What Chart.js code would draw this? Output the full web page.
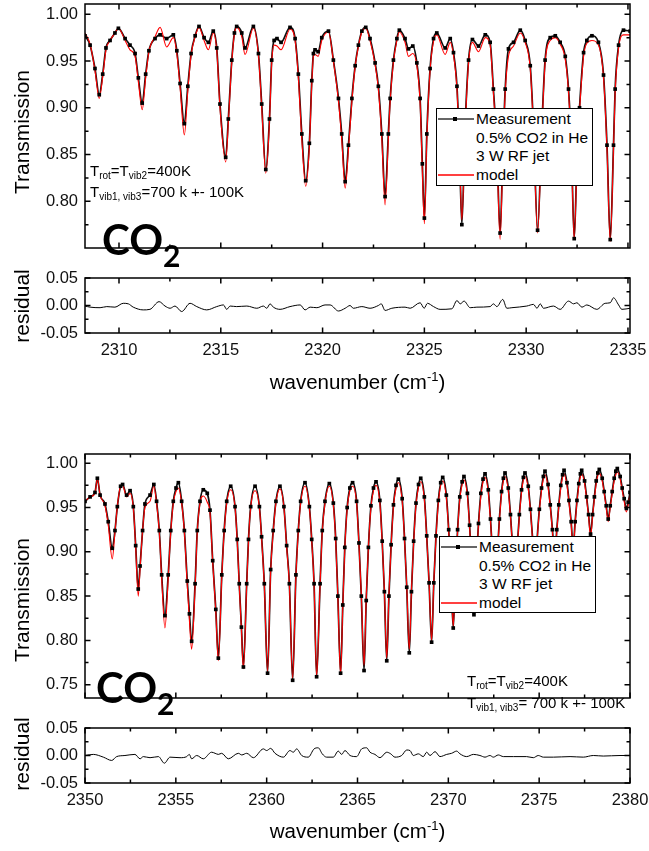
<!DOCTYPE html>
<html>
<head>
<meta charset="utf-8">
<script src="https://cdn.jsdelivr.net/npm/chart.js@4.4.1/dist/chart.umd.min.js"></script>
<style>
  body { margin: 0; background: #fff; }
  #page { position: relative; width: 649px; height: 851px; overflow: hidden;
          font-family: "Liberation Sans", Arial, sans-serif; color: #000; }
  canvas { position: absolute; left: 0; }
  .ytitle { position: absolute; font-size: 21px; line-height: 24px; white-space: nowrap;
            transform: translate(-50%, -50%) rotate(-90deg); }
  .xtitle { position: absolute; left: 85px; width: 545px; text-align: center;
            font-size: 20.5px; line-height: 24px; }
  .xtitle sup { font-size: 13px; line-height: 0; }
  .note { position: absolute; font-size: 15px; line-height: 20.5px; white-space: nowrap; }
  .note sub { font-size: 10px; line-height: 0; vertical-align: -3px; }
  .mol { position: absolute; font-family: Lato, "Open Sans", sans-serif; font-weight: 700;
         font-size: 42px; line-height: 42px; white-space: nowrap; }
  .mol span { font-size: 30px; position: relative; top: 12px; }
  .legend { position: absolute; box-sizing: border-box; width: 157px; height: 78px;
            border: 1px solid #000; background: #fff; padding-top: 1px;
            font-size: 15.5px; line-height: 18.7px; }
  .row { position: relative; padding-left: 39px; height: 18.7px; white-space: nowrap; }
  .row svg { position: absolute; left: 1px; top: 5px; }
</style>
</head>
<body>
<div id="page">
  <canvas id="topMain" width="649" height="300" style="top:-10px"></canvas>
  <canvas id="topRes" width="649" height="99" style="top:264px"></canvas>
  <canvas id="botMain" width="649" height="300" style="top:440px"></canvas>
  <canvas id="botRes" width="649" height="99" style="top:714px"></canvas>

  <div class="ytitle" style="left:22px;top:132px">Transmission</div>
  <div class="ytitle" style="left:22px;top:306px">residual</div>
  <div class="xtitle" style="top:370px">wavenumber (cm<sup>-1</sup>)</div>
  <div class="ytitle" style="left:22px;top:600px">Transmission</div>
  <div class="ytitle" style="left:22px;top:754px">residual</div>
  <div class="xtitle" style="top:819px">wavenumber (cm<sup>-1</sup>)</div>

  <div class="note" style="left:90px;top:161px">T<sub>rot</sub>=T<sub>vib2</sub>=400K<br>T<sub>vib1, vib3</sub>=700 k +- 100K</div>
  <div class="note" style="left:467px;top:670px;line-height:21.5px">T<sub>rot</sub>=T<sub>vib2</sub>=400K<br>T<sub>vib1, vib3</sub>= 700 k +- 100K</div>

  <div class="mol" style="left:102px;top:218px">CO<span>2</span></div>
  <div class="mol" style="left:96px;top:666px">CO<span>2</span></div>

  <div class="legend" style="left:436px;top:108px">
    <div class="row"><svg width="36" height="8"><line x1="0" y1="4" x2="36" y2="4" stroke="#333" stroke-width="1.5"/><rect x="15" y="2" width="4" height="4" fill="#000"/></svg>Measurement</div>
    <div class="row">0.5% CO2 in He</div>
    <div class="row">3 W RF jet</div>
    <div class="row"><svg width="36" height="8"><line x1="0" y1="4" x2="36" y2="4" stroke="#ff0000" stroke-width="1.3"/></svg>model</div>
  </div>
  <div class="legend" style="left:439px;top:536px;height:77px">
    <div class="row"><svg width="36" height="8"><line x1="0" y1="4" x2="36" y2="4" stroke="#333" stroke-width="1.5"/><rect x="15" y="2" width="4" height="4" fill="#000"/></svg>Measurement</div>
    <div class="row">0.5% CO2 in He</div>
    <div class="row">3 W RF jet</div>
    <div class="row"><svg width="36" height="8"><line x1="0" y1="4" x2="36" y2="4" stroke="#ff0000" stroke-width="1.3"/></svg>model</div>
  </div>
</div>

<script>
// ---- upper spectrum (2308 - 2335 cm-1) ----
const wnTop = [
  2308.33, 2308.58, 2308.82, 2309.03, 2309.20, 2309.36, 2309.56, 2309.80, 2309.97, 2310.30,
  2310.54, 2310.79, 2310.95, 2311.14, 2311.31, 2311.47, 2311.77, 2312.02, 2312.34, 2312.67,
  2312.84, 2313.00, 2313.21, 2313.38, 2313.54, 2313.74, 2313.93, 2314.18, 2314.39, 2314.63,
  2314.80, 2314.96, 2315.24, 2315.37, 2315.54, 2315.67, 2315.78, 2316.03, 2316.19, 2316.60,
  2316.85, 2317.01, 2317.21, 2317.39, 2317.50, 2317.62, 2317.76, 2317.96, 2318.40, 2318.65,
  2318.81, 2318.98, 2319.17, 2319.35, 2319.47, 2319.55, 2319.63, 2319.78, 2319.96, 2320.29,
  2320.53, 2320.78, 2320.94, 2321.11, 2321.27, 2321.44, 2321.60, 2321.76, 2321.93, 2322.12,
  2322.33, 2322.58, 2322.74, 2322.91, 2323.07, 2323.23, 2323.32, 2323.48, 2323.65, 2323.77,
  2324.05, 2324.22, 2324.43, 2324.63, 2324.79, 2324.90, 2325.00, 2325.12, 2325.28, 2325.45,
  2325.61, 2326.02, 2326.27, 2326.43, 2326.60, 2326.72, 2326.84, 2327.00, 2327.17, 2327.36,
  2327.66, 2327.99, 2328.23, 2328.39, 2328.56, 2328.72, 2328.85, 2328.97, 2329.13, 2329.38,
  2329.71, 2329.95, 2330.20, 2330.36, 2330.56, 2330.77, 2330.93, 2331.18, 2331.43, 2331.67,
  2331.92, 2332.08, 2332.22, 2332.36, 2332.50, 2332.62, 2332.82, 2332.98, 2333.23, 2333.55,
  2333.80, 2333.97, 2334.13, 2334.29, 2334.37, 2334.54, 2334.78, 2335.11
];
const measTop = [
  0.977, 0.967, 0.942, 0.914, 0.936, 0.964, 0.972, 0.980, 0.985, 0.974,
  0.967, 0.958, 0.932, 0.905, 0.936, 0.961, 0.974, 0.978, 0.974, 0.978,
  0.961, 0.926, 0.883, 0.923, 0.958, 0.977, 0.987, 0.975, 0.970, 0.982,
  0.964, 0.904, 0.847, 0.888, 0.951, 0.980, 0.987, 0.980, 0.964, 0.987,
  0.958, 0.904, 0.834, 0.888, 0.951, 0.972, 0.974, 0.970, 0.986, 0.974,
  0.936, 0.872, 0.822, 0.862, 0.929, 0.958, 0.962, 0.960, 0.975, 0.982,
  0.951, 0.910, 0.872, 0.821, 0.860, 0.910, 0.945, 0.967, 0.982, 0.986,
  0.974, 0.948, 0.923, 0.872, 0.805, 0.872, 0.910, 0.951, 0.974, 0.983,
  0.974, 0.963, 0.966, 0.948, 0.910, 0.840, 0.782, 0.872, 0.942, 0.974,
  0.980, 0.964, 0.974, 0.959, 0.923, 0.860, 0.775, 0.880, 0.951, 0.973,
  0.966, 0.978, 0.970, 0.920, 0.860, 0.766, 0.850, 0.920, 0.963, 0.970,
  0.983, 0.972, 0.945, 0.880, 0.769, 0.880, 0.951, 0.975, 0.977, 0.970,
  0.955, 0.920, 0.860, 0.760, 0.850, 0.900, 0.959, 0.972, 0.977, 0.970,
  0.935, 0.860, 0.759, 0.860, 0.920, 0.967, 0.983, 0.982
];
const modelTop = [
  0.980, 0.968, 0.940, 0.910, 0.933, 0.962, 0.972, 0.980, 0.985, 0.972,
  0.962, 0.955, 0.928, 0.898, 0.932, 0.960, 0.976, 0.986, 0.965, 0.975,
  0.958, 0.922, 0.871, 0.918, 0.956, 0.976, 0.986, 0.972, 0.962, 0.980,
  0.962, 0.900, 0.842, 0.884, 0.949, 0.979, 0.986, 0.976, 0.957, 0.985,
  0.956, 0.900, 0.830, 0.884, 0.948, 0.967, 0.966, 0.962, 0.984, 0.972,
  0.932, 0.866, 0.816, 0.858, 0.926, 0.955, 0.957, 0.955, 0.972, 0.981,
  0.950, 0.907, 0.866, 0.814, 0.855, 0.907, 0.944, 0.966, 0.981, 0.985,
  0.972, 0.946, 0.920, 0.866, 0.796, 0.866, 0.907, 0.949, 0.972, 0.981,
  0.970, 0.955, 0.958, 0.945, 0.905, 0.832, 0.776, 0.866, 0.940, 0.971,
  0.978, 0.957, 0.970, 0.956, 0.920, 0.856, 0.780, 0.877, 0.948, 0.970,
  0.960, 0.975, 0.967, 0.916, 0.855, 0.759, 0.845, 0.916, 0.955, 0.966,
  0.980, 0.970, 0.942, 0.876, 0.766, 0.876, 0.948, 0.972, 0.975, 0.968,
  0.952, 0.917, 0.856, 0.759, 0.846, 0.896, 0.955, 0.969, 0.972, 0.967,
  0.932, 0.856, 0.757, 0.856, 0.916, 0.964, 0.978, 0.978
];
const wnResTop = [
  2308.33, 2308.58, 2309.07, 2309.40, 2309.80, 2310.21, 2310.46, 2310.70, 2311.19, 2311.52,
  2311.97, 2312.26, 2312.51, 2312.75, 2313.08, 2313.49, 2313.82, 2314.31, 2314.80, 2315.13,
  2315.29, 2315.46, 2315.78, 2316.28, 2316.77, 2317.09, 2317.26, 2317.42, 2317.58, 2317.91,
  2318.40, 2318.90, 2319.14, 2319.39, 2319.72, 2320.12, 2320.37, 2320.78, 2321.11, 2321.35,
  2321.51, 2321.93, 2322.33, 2322.74, 2322.88, 2323.07, 2323.40, 2324.05, 2324.30, 2324.79,
  2324.99, 2325.15, 2325.45, 2325.77, 2326.35, 2326.60, 2326.76, 2326.95, 2327.25, 2327.58,
  2328.23, 2328.39, 2328.56, 2328.85, 2329.05, 2329.30, 2330.03, 2330.36, 2330.53, 2330.69,
  2330.85, 2331.34, 2331.67, 2332.08, 2332.33, 2332.49, 2332.74, 2332.98, 2333.47, 2333.88,
  2334.13, 2334.29, 2334.54, 2334.70, 2335.11
];
const resTop = [
  -0.001, -0.003, -0.004, -0.002, -0.003, 0.004, 0.003, -0.003, -0.008, -0.007,
  0.007, -0.001, -0.005, -0.001, -0.011, 0.004, -0.002, -0.008, -0.002, 0.001,
  -0.007, -0.001, -0.002, -0.001, -0.005, -0.001, -0.005, 0.003, -0.003, -0.007,
  -0.002, 0.001, -0.008, -0.003, -0.004, 0.001, 0.001, -0.010, -0.005, 0.000,
  -0.005, -0.002, -0.005, 0.000, 0.003, -0.009, -0.005, -0.003, -0.005, 0.005,
  -0.005, 0.004, -0.002, -0.007, -0.006, 0.009, 0.003, 0.008, -0.004, -0.003,
  -0.002, 0.003, -0.002, 0.011, -0.005, -0.004, -0.001, 0.002, -0.005, 0.003,
  -0.005, -0.001, -0.007, 0.008, 0.003, 0.005, -0.003, 0.001, -0.007, 0.004,
  0.005, 0.014, 0.001, -0.007, -0.005
];

// ---- lower spectrum (2350 - 2380 cm-1) ----
const wnBot = [
  2350.00, 2350.28, 2350.55, 2350.68, 2350.83, 2351.10, 2351.28, 2351.50, 2351.65, 2351.78,
  2351.96, 2352.07, 2352.29, 2352.48, 2352.66, 2352.79, 2352.93, 2353.03, 2353.17, 2353.30,
  2353.58, 2353.79, 2353.94, 2354.09, 2354.22, 2354.40, 2354.58, 2354.72, 2354.86, 2355.01,
  2355.14, 2355.32, 2355.47, 2355.63, 2355.75, 2355.87, 2356.06, 2356.18, 2356.33, 2356.51,
  2356.73, 2356.88, 2357.03, 2357.20, 2357.34, 2357.53, 2357.66, 2357.80, 2358.02, 2358.26,
  2358.38, 2358.49, 2358.61, 2358.72, 2358.90, 2359.00, 2359.12, 2359.36, 2359.60, 2359.72,
  2359.87, 2360.05, 2360.22, 2360.36, 2360.51, 2360.73, 2360.95, 2361.10, 2361.25, 2361.43,
  2361.61, 2361.74, 2361.87, 2362.11, 2362.35, 2362.48, 2362.61, 2362.75, 2362.94, 2363.06,
  2363.21, 2363.45, 2363.67, 2363.80, 2363.92, 2364.07, 2364.19, 2364.30, 2364.43, 2364.58,
  2364.73, 2364.95, 2365.08, 2365.21, 2365.36, 2365.48, 2365.60, 2365.74, 2365.88, 2366.02,
  2366.23, 2366.36, 2366.48, 2366.61, 2366.73, 2366.85, 2366.98, 2367.12, 2367.25, 2367.46,
  2367.59, 2367.71, 2367.85, 2367.97, 2368.09, 2368.22, 2368.36, 2368.48, 2368.68, 2368.81,
  2368.94, 2369.08, 2369.20, 2369.32, 2369.45, 2369.58, 2369.69, 2369.89, 2370.02, 2370.14,
  2370.27, 2370.39, 2370.51, 2370.63, 2370.76, 2370.86, 2371.05, 2371.17, 2371.29, 2371.41,
  2371.53, 2371.66, 2371.79, 2371.91, 2372.02, 2372.20, 2372.32, 2372.44, 2372.57, 2372.69,
  2372.81, 2372.93, 2373.03, 2373.12, 2373.30, 2373.42, 2373.54, 2373.67, 2373.79, 2373.91,
  2374.03, 2374.13, 2374.22, 2374.40, 2374.52, 2374.64, 2374.77, 2374.89, 2375.01, 2375.13,
  2375.23, 2375.32, 2375.49, 2375.61, 2375.73, 2375.85, 2375.97, 2376.08, 2376.19, 2376.29,
  2376.37, 2376.53, 2376.64, 2376.76, 2376.87, 2376.98, 2377.08, 2377.18, 2377.27, 2377.34,
  2377.50, 2377.61, 2377.72, 2377.83, 2377.94, 2378.04, 2378.14, 2378.23, 2378.31, 2378.47,
  2378.58, 2378.69, 2378.80, 2378.91, 2379.02, 2379.13, 2379.22, 2379.30, 2379.46, 2379.57,
  2379.68, 2379.80, 2379.90, 2380.00
];
const measBot = [
  0.957, 0.962, 0.967, 0.983, 0.964, 0.954, 0.934, 0.904, 0.924, 0.951,
  0.974, 0.976, 0.964, 0.969, 0.951, 0.907, 0.858, 0.884, 0.924, 0.954,
  0.964, 0.976, 0.957, 0.924, 0.874, 0.828, 0.874, 0.924, 0.957, 0.972,
  0.978, 0.957, 0.924, 0.867, 0.830, 0.799, 0.864, 0.924, 0.957, 0.970,
  0.966, 0.947, 0.890, 0.835, 0.780, 0.874, 0.924, 0.957, 0.974, 0.951,
  0.914, 0.864, 0.815, 0.770, 0.864, 0.914, 0.951, 0.974, 0.951, 0.917,
  0.864, 0.763, 0.880, 0.924, 0.957, 0.974, 0.951, 0.907, 0.864, 0.755,
  0.874, 0.924, 0.957, 0.978, 0.951, 0.914, 0.864, 0.759, 0.864, 0.924,
  0.957, 0.977, 0.955, 0.915, 0.850, 0.763, 0.840, 0.905, 0.950, 0.972,
  0.978, 0.957, 0.910, 0.850, 0.766, 0.845, 0.905, 0.952, 0.972, 0.979,
  0.958, 0.912, 0.855, 0.777, 0.850, 0.908, 0.953, 0.975, 0.982, 0.960,
  0.915, 0.860, 0.786, 0.855, 0.912, 0.955, 0.976, 0.983, 0.962, 0.918,
  0.865, 0.798, 0.865, 0.918, 0.958, 0.978, 0.984, 0.964, 0.925, 0.875,
  0.814, 0.875, 0.925, 0.962, 0.979, 0.985, 0.966, 0.930, 0.885, 0.829,
  0.885, 0.932, 0.966, 0.982, 0.988, 0.970, 0.937, 0.895, 0.846, 0.895,
  0.937, 0.968, 0.983, 0.989, 0.972, 0.942, 0.905, 0.860, 0.905, 0.942,
  0.970, 0.984, 0.989, 0.974, 0.948, 0.915, 0.875, 0.915, 0.948, 0.972,
  0.985, 0.991, 0.976, 0.953, 0.925, 0.890, 0.925, 0.953, 0.975, 0.987,
  0.992, 0.978, 0.958, 0.934, 0.905, 0.934, 0.958, 0.977, 0.988, 0.992,
  0.980, 0.962, 0.942, 0.920, 0.942, 0.962, 0.980, 0.989, 0.993, 0.983,
  0.968, 0.952, 0.937, 0.952, 0.968, 0.983, 0.991, 0.994, 0.985, 0.972,
  0.960, 0.949, 0.956, 0.967
];
const modelBot = [
  0.957, 0.962, 0.966, 0.983, 0.964, 0.952, 0.930, 0.892, 0.922, 0.951,
  0.974, 0.975, 0.962, 0.966, 0.950, 0.905, 0.850, 0.880, 0.924, 0.950,
  0.957, 0.974, 0.955, 0.922, 0.870, 0.814, 0.870, 0.922, 0.955, 0.968,
  0.972, 0.955, 0.922, 0.862, 0.822, 0.790, 0.860, 0.922, 0.955, 0.963,
  0.956, 0.944, 0.888, 0.832, 0.777, 0.872, 0.922, 0.955, 0.970, 0.950,
  0.912, 0.862, 0.812, 0.768, 0.862, 0.912, 0.950, 0.969, 0.950, 0.915,
  0.862, 0.765, 0.878, 0.922, 0.955, 0.971, 0.950, 0.905, 0.862, 0.757,
  0.872, 0.922, 0.955, 0.974, 0.950, 0.912, 0.862, 0.760, 0.862, 0.922,
  0.955, 0.974, 0.953, 0.912, 0.848, 0.761, 0.838, 0.903, 0.948, 0.969,
  0.974, 0.955, 0.908, 0.852, 0.772, 0.848, 0.905, 0.950, 0.969, 0.975,
  0.955, 0.910, 0.857, 0.780, 0.852, 0.906, 0.951, 0.972, 0.978, 0.957,
  0.913, 0.862, 0.790, 0.857, 0.910, 0.953, 0.973, 0.979, 0.959, 0.916,
  0.866, 0.800, 0.866, 0.916, 0.955, 0.975, 0.980, 0.961, 0.923, 0.876,
  0.816, 0.876, 0.923, 0.959, 0.976, 0.981, 0.963, 0.928, 0.886, 0.831,
  0.886, 0.930, 0.963, 0.979, 0.984, 0.967, 0.935, 0.895, 0.846, 0.895,
  0.935, 0.965, 0.980, 0.985, 0.969, 0.940, 0.904, 0.858, 0.904, 0.940,
  0.967, 0.981, 0.985, 0.971, 0.946, 0.913, 0.873, 0.913, 0.946, 0.969,
  0.982, 0.987, 0.973, 0.951, 0.923, 0.888, 0.923, 0.951, 0.972, 0.984,
  0.988, 0.975, 0.956, 0.932, 0.903, 0.932, 0.956, 0.974, 0.985, 0.988,
  0.977, 0.960, 0.940, 0.917, 0.940, 0.960, 0.977, 0.986, 0.989, 0.980,
  0.966, 0.950, 0.934, 0.950, 0.966, 0.980, 0.987, 0.990, 0.982, 0.969,
  0.957, 0.945, 0.953, 0.965
];
const wnResBot = [
  2350.00, 2350.46, 2351.01, 2351.47, 2351.74, 2352.20, 2352.75, 2353.03, 2353.21, 2353.58,
  2354.04, 2354.37, 2354.68, 2355.23, 2355.60, 2355.74, 2355.87, 2356.15, 2356.51, 2356.97,
  2357.16, 2357.34, 2357.52, 2357.89, 2358.44, 2358.63, 2358.90, 2359.27, 2359.82, 2360.00,
  2360.22, 2360.46, 2360.92, 2361.28, 2361.47, 2361.65, 2361.93, 2362.29, 2362.61, 2362.84,
  2363.06, 2363.30, 2363.67, 2363.94, 2364.13, 2364.31, 2364.59, 2364.95, 2365.23, 2365.50,
  2365.69, 2365.96, 2366.24, 2366.61, 2366.83, 2367.06, 2367.43, 2367.71, 2367.89, 2368.07,
  2368.35, 2368.62, 2368.81, 2368.99, 2369.27, 2369.54, 2369.91, 2370.18, 2370.46, 2370.64,
  2371.01, 2371.38, 2371.74, 2372.02, 2372.29, 2372.48, 2372.75, 2373.03, 2373.58, 2374.31,
  2374.68, 2374.95, 2375.23, 2375.78, 2376.70, 2377.43, 2377.98, 2378.53, 2379.45, 2380.00
];
const resBot = [
  0.000, 0.002, -0.003, -0.009, -0.002, 0.000, 0.002, -0.006, -0.002, -0.004,
  -0.002, -0.014, -0.003, -0.004, -0.002, 0.002, -0.006, 0.000, -0.006, 0.006,
  0.004, 0.002, 0.004, -0.006, 0.004, 0.001, 0.004, -0.004, 0.012, 0.009,
  0.013, 0.004, -0.003, 0.009, 0.006, 0.012, 0.000, -0.003, 0.012, 0.014,
  0.003, -0.003, -0.003, 0.008, 0.002, 0.009, 0.000, -0.002, 0.012, 0.014,
  0.006, 0.002, -0.004, 0.006, 0.003, -0.003, 0.000, 0.010, 0.009, 0.000,
  0.003, -0.002, 0.006, 0.000, 0.007, -0.002, 0.002, 0.004, 0.008, 0.003,
  -0.002, 0.002, 0.000, -0.003, 0.000, -0.003, 0.001, -0.002, -0.002, -0.002,
  -0.004, 0.000, -0.003, -0.003, -0.002, -0.003, 0.000, -0.001, 0.000, 0.000
];

// tick values
const xTicksTop = [2310, 2315, 2320, 2325, 2330, 2335];
const xMinorTop = [2312.5, 2317.5, 2322.5, 2327.5, 2332.5];
const xTicksBot = [2350, 2355, 2360, 2365, 2370, 2375, 2380];
const xMinorBot = [2352.5, 2357.5, 2362.5, 2367.5, 2372.5, 2377.5];
const yTicksTop = [0.80, 0.85, 0.90, 0.95, 1.00];
const yTicksBot = [0.75, 0.80, 0.85, 0.90, 0.95, 1.00];
const yMinorMain = [0.775, 0.825, 0.875, 0.925, 0.975];
const resTicks = [-0.05, 0, 0.05];
const resMinor = [-0.025, 0.025];

const tickFont = { family: '"Liberation Sans", Arial, sans-serif', size: 16.5 };

// frame round the plot area plus inward ticks on all four sides
const frameTicks = {
    id: 'frameTicks',
    afterDatasetsDraw(chart, args, o) {
        const { ctx, chartArea: a } = chart;
        const xs = chart.scales.x, ys = chart.scales.y;
        ctx.save();
        ctx.strokeStyle = '#000';
        ctx.lineWidth = 1.5;
        ctx.beginPath();
        const vTick = (v, len) => {
            const p = xs.getPixelForValue(v);
            ctx.moveTo(p, a.bottom); ctx.lineTo(p, a.bottom - len);
            ctx.moveTo(p, a.top); ctx.lineTo(p, a.top + len);
        };
        const hTick = (v, len) => {
            const p = ys.getPixelForValue(v);
            ctx.moveTo(a.left, p); ctx.lineTo(a.left + len, p);
            ctx.moveTo(a.right, p); ctx.lineTo(a.right - len, p);
        };
        o.xMajor.forEach(v => vTick(v, 5.5));
        o.xMinor.forEach(v => vTick(v, 3.5));
        o.yMajor.forEach(v => hTick(v, 5.5));
        o.yMinor.forEach(v => hTick(v, 3.5));
        ctx.stroke();
        ctx.strokeRect(a.left, a.top, a.right - a.left, a.bottom - a.top);
        ctx.restore();
    }
};

const pts = (xs, ys) => xs.map((x, i) => ({ x: x, y: ys[i] }));

const spectrumSets = (wn, meas, model) => [
    { data: pts(wn, meas), showLine: true, borderColor: '#111', borderWidth: 1.7,
      pointRadius: 0, cubicInterpolationMode: 'monotone', order: 3 },
    { data: pts(wn, model), showLine: true, borderColor: '#ff0000', borderWidth: 1.1,
      pointRadius: 0, cubicInterpolationMode: 'monotone', order: 2 },
    { data: pts(wn, meas), showLine: false, pointStyle: 'rect', pointRadius: 2.6,
      backgroundColor: '#000', borderWidth: 0, order: 1 }
];

const residualSets = (wn, res) => [
    { data: pts(wn, res), showLine: true, borderColor: '#000', borderWidth: 1,
      pointRadius: 0, cubicInterpolationMode: 'monotone' }
];

const makePanel = (id, datasets, cfg) => new Chart(document.getElementById(id), {
    type: 'scatter',
    data: { datasets },
    options: {
        responsive: false,
        animation: false,
        events: [],
        layout: { padding: cfg.padding },
        plugins: {
            legend: { display: false },
            tooltip: { enabled: false },
            frameTicks: { xMajor: cfg.xMajor, xMinor: cfg.xMinor, yMajor: cfg.yMajor, yMinor: cfg.yMinor }
        },
        scales: {
            x: {
                type: 'linear', min: cfg.xMin, max: cfg.xMax, display: cfg.showX,
                grid: { display: true, drawOnChartArea: false, drawTicks: true, tickLength: 8, color: 'transparent' },
                border: { display: false },
                ticks: { padding: 0, font: tickFont, color: '#111', autoSkip: false, maxRotation: 0,
                         callback: v => String(v) },
                afterBuildTicks: s => { s.ticks = cfg.xMajor.map(v => ({ value: v })); },
                afterFit: s => { s.height = 30; }
            },
            y: {
                type: 'linear', min: cfg.yMin, max: cfg.yMax,
                grid: { display: true, drawOnChartArea: false, drawTicks: true, tickLength: 7, color: 'transparent' },
                border: { display: false },
                ticks: { padding: 0, font: tickFont, color: '#111', callback: v => v.toFixed(2) },
                afterBuildTicks: s => { s.ticks = cfg.yMajor.map(v => ({ value: v })); },
                afterFit: s => { s.width = 85; }
            }
        }
    },
    plugins: [frameTicks]
});

makePanel('topMain', spectrumSets(wnTop, measTop, modelTop), {
    padding: { top: 14, bottom: 12, left: 0, right: 19 },
    xMin: 2308.33, xMax: 2335.1, yMin: 0.75, yMax: 1.011, showX: false,
    xMajor: xTicksTop, xMinor: xMinorTop, yMajor: yTicksTop, yMinor: yMinorMain
});
makePanel('topRes', residualSets(wnResTop, resTop), {
    padding: { top: 14, bottom: 0, left: 0, right: 19 },
    xMin: 2308.33, xMax: 2335.1, yMin: -0.05, yMax: 0.05, showX: true,
    xMajor: xTicksTop, xMinor: xMinorTop, yMajor: resTicks, yMinor: resMinor
});
makePanel('botMain', spectrumSets(wnBot, measBot, modelBot), {
    padding: { top: 14, bottom: 12, left: 0, right: 19 },
    xMin: 2350, xMax: 2380, yMin: 0.735, yMax: 1.0104, showX: false,
    xMajor: xTicksBot, xMinor: xMinorBot, yMajor: yTicksBot, yMinor: yMinorMain
});
makePanel('botRes', residualSets(wnResBot, resBot), {
    padding: { top: 14, bottom: 0, left: 0, right: 19 },
    xMin: 2350, xMax: 2380, yMin: -0.05, yMax: 0.05, showX: true,
    xMajor: xTicksBot, xMinor: xMinorBot, yMajor: resTicks, yMinor: resMinor
});
</script>
</body>
</html>
